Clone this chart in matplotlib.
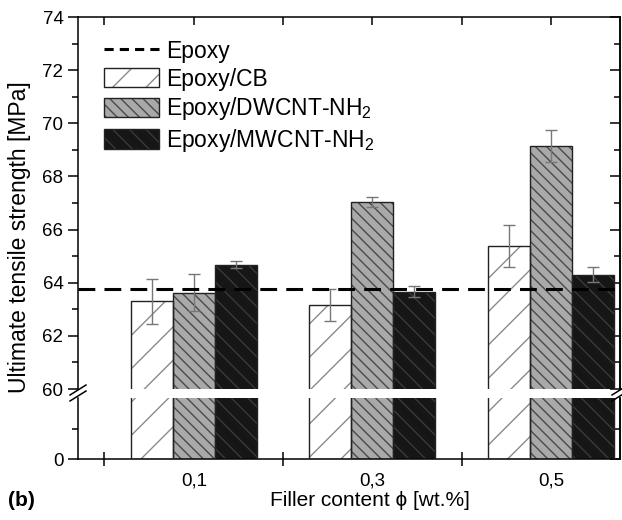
import matplotlib
matplotlib.use("Agg")
import matplotlib.pyplot as plt
import numpy as np
from matplotlib.patches import Patch
from matplotlib.lines import Line2D

plt.rcParams['font.family'] = ['Liberation Sans', 'DejaVu Sans']
plt.rcParams['hatch.linewidth'] = 1.0

categories = ['0,1', '0,3', '0,5']
series = ['Epoxy/CB', 'Epoxy/DWCNT-NH$_\\mathregular{2}$', 'Epoxy/MWCNT-NH$_\\mathregular{2}$']
cb_vals = [63.3, 63.15, 65.38]
cb_err = [0.85, 0.6, 0.8]
dw_vals = [63.63, 67.04, 69.14]
dw_err = [0.68, 0.2, 0.6]
mw_vals = [64.68, 63.66, 64.3]
mw_err = [0.13, 0.2, 0.29]
epoxy_val = 63.78
yticks_upper = [60, 62, 64, 66, 68, 70, 72, 74]

W, H = 622, 520
fig = plt.figure(figsize=(W/100, H/100), dpi=100)

def fx(px): return px / W
def fy(py): return 1 - py / H

L, R = 78, 620
ax_u = fig.add_axes([fx(L), fy(389), fx(R - L), fy(17) - fy(389)])
ax_l = fig.add_axes([fx(L), fy(459), fx(R - L), fy(398) - fy(459)])

x = np.arange(1, len(categories) + 1)
bw = 0.235
offsets = [-bw, 0, bw]
styles = [
    dict(face='white', hatchc='#8a8a8a', hatch='/'),
    dict(face='#a9a9a9', hatchc='#4a4a4a', hatch='\\\\\\'),
    dict(face='#161616', hatchc='#3a3a3a', hatch='\\\\'),
]
vals = [cb_vals, dw_vals, mw_vals]
errs = [cb_err, dw_err, mw_err]

for ax in (ax_u, ax_l):
    for i in range(3):
        st = styles[i]
        ax.bar(x + offsets[i], vals[i], width=bw, color=st['face'],
               edgecolor=st['hatchc'], hatch=st['hatch'], linewidth=0, zorder=2)
        ax.bar(x + offsets[i], vals[i], width=bw, fill=False,
               edgecolor='#222222', linewidth=1.0, zorder=3)

for i in range(3):
    ax_u.errorbar(x + offsets[i], vals[i], yerr=errs[i], fmt='none',
                  ecolor='#777777', elinewidth=1.0, capsize=4, capthick=1.0, zorder=4)

ax_u.axhline(epoxy_val, color='black', lw=2.2, ls=(0, (5.5, 3.0)), zorder=5)

xl = (1 - 116/179, 3 + 69/179)
for ax in (ax_u, ax_l):
    ax.set_xlim(*xl)
    for s in ax.spines.values():
        s.set_linewidth(1.1)

ax_u.set_ylim(60, 74)
ax_l.set_ylim(0, 60)
ax_u.spines['bottom'].set_visible(False)
ax_l.spines['top'].set_visible(False)

# upper axis ticks
ax_u.set_yticks(yticks_upper)
ax_u.set_yticklabels([str(v) for v in yticks_upper], fontsize=13.5)
ax_u.set_yticks(np.arange(61, 74, 2), minor=True)
ax_u.tick_params(axis='y', which='major', direction='out', length=7, width=1.1, right=False)
ax_u.tick_params(axis='y', which='minor', direction='out', length=4, width=1.1, right=False)
sec = ax_u.secondary_yaxis('right')
sec.set_yticks(yticks_upper)
sec.set_yticks(np.arange(61, 74, 2), minor=True)
sec.tick_params(axis='y', which='major', direction='in', length=7, width=1.1, labelright=False)
sec.tick_params(axis='y', which='minor', direction='in', length=4, width=1.1)
sec.spines['right'].set_linewidth(1.1)

ax_u.xaxis.tick_top()
ax_u.set_xticks([0.5, 1, 1.5, 2, 2.5, 3])
ax_u.set_xticklabels([])
ax_u.tick_params(axis='x', which='major', direction='in', length=6, width=1.1)

# lower axis ticks
ax_l.set_yticks([0])
ax_l.set_yticklabels(['0'], fontsize=13.5)
ax_l.set_yticks([30], minor=True)
ax_l.tick_params(axis='y', which='major', direction='out', length=7, width=1.1)
ax_l.tick_params(axis='y', which='minor', direction='out', length=4, width=1.1)
sec2 = ax_l.secondary_yaxis('right')
sec2.set_yticks([0])
sec2.set_yticks([30], minor=True)
sec2.tick_params(axis='y', which='major', direction='in', length=7, width=1.1, labelright=False)
sec2.tick_params(axis='y', which='minor', direction='in', length=4, width=1.1)
sec2.spines['right'].set_linewidth(1.1)
sec2.spines['top'].set_visible(False)

ax_l.set_xticks(x)
ax_l.set_xticklabels(categories, fontsize=13.5)
ax_l.tick_params(axis='x', which='major', length=0, pad=10)
ax_l.set_xticks([0.5, 1.5, 2.5], minor=True)
ax_l.tick_params(axis='x', which='minor', direction='inout', length=10, width=1.1)

# break marks
for xp in (L, R):
    for dy in (0, 6):
        fig.add_artist(Line2D([fx(xp - 8), fx(xp + 8)], [fy(395 + dy), fy(385 + dy)],
                              color='black', lw=1.1, transform=fig.transFigure))

# labels
fig.text(fx(20), fy(237), 'Ultimate tensile strength [MPa]', rotation=90,
         ha='center', va='center', fontsize=16.5)
fig.text(fx(370), fy(500), 'Filler content \u03d5 [wt.%]', ha='center', va='center', fontsize=15)
fig.text(fx(8), fy(500), '(b)', ha='left', va='center', fontsize=15, fontweight='bold')

# legend
handles = [Line2D([], [], color='black', lw=2.2, ls=(0, (3.0, 2.0)))]
for st in styles:
    handles.append((Patch(facecolor=st['face'], edgecolor=st['hatchc'], hatch=st['hatch'], linewidth=0),
                    Patch(fill=False, edgecolor='#222222', linewidth=1.0)))
labels = ['Epoxy'] + series
fig.legend(handles, labels, loc='upper left', bbox_to_anchor=(fx(104), fy(40)),
           bbox_transform=fig.transFigure, frameon=False, fontsize=16.5,
           handlelength=2.4, handleheight=0.92, labelspacing=0.2,
           handletextpad=0.3, borderpad=0, borderaxespad=0)

fig.savefig('out.png', dpi=100)
